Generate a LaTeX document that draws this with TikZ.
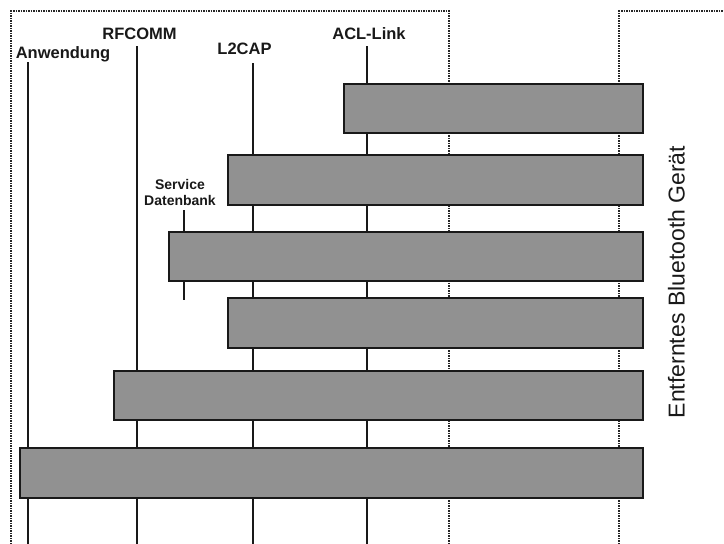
\documentclass[tikz,border=0pt]{standalone}
\usepackage{fontspec}
\setmainfont{Liberation Sans}
\definecolor{barfill}{RGB}{145,145,145}
\definecolor{ink}{RGB}{25,25,25}
\begin{document}
\begin{tikzpicture}[x=1pt,y=-1pt,
  lbl/.style={font=\bfseries\fontsize{16.5}{18}\selectfont, anchor=base, inner sep=0pt, text=ink},
  smalllbl/.style={font=\bfseries\fontsize{14}{16}\selectfont, align=center, inner sep=0pt, text=ink},
  life/.style={line width=1.7pt, draw=ink},
  bar/.style={draw=ink, line width=1.7pt, fill=barfill, anchor=north west, inner sep=0pt},
  border/.style={line width=1.8pt, draw=black!85, dash pattern=on 1.5pt off 1pt},
]
\useasboundingbox (0,0) rectangle (724,544);

% dotted frames of the local and the remote device
\draw[border] (11,544) -- (11,11) -- (449,11) -- (449,544);
\draw[border] (619,544) -- (619,11) -- (724,11);

% layer labels
\node[lbl] (anw) at (63,58) {Anwendung};
\node[lbl] (rfc) at (139.5,39) {RFCOMM};
\node[lbl] (l2c) at (244.5,54.5) {L2CAP};
\node[lbl] (acl) at (369,39) {ACL-Link};
\node[smalllbl] (sdb) at (180,192) {Service\\Datenbank};

% lifelines
\coordinate (anwT) at (28,62);   \coordinate (anwB) at (28,544);
\coordinate (rfcT) at (137,46);  \coordinate (rfcB) at (137,544);
\coordinate (l2cT) at (253,63);  \coordinate (l2cB) at (253,544);
\coordinate (aclT) at (367,46);  \coordinate (aclB) at (367,544);
\coordinate (sdbT) at (184,210); \coordinate (sdbB) at (184,300);
\draw[life] (anwT) -- (anwB);
\draw[life] (rfcT) -- (rfcB);
\draw[life] (l2cT) -- (l2cB);
\draw[life] (aclT) -- (aclB);
\draw[life] (sdbT) -- (sdbB);

% connection phases
\node[bar, minimum width=299pt, minimum height=49pt] (p1) at (343,83) {};
\node[bar, minimum width=415pt, minimum height=50pt] (p2) at (227,154) {};
\node[bar, minimum width=474pt, minimum height=49pt] (p3) at (168,231) {};
\node[bar, minimum width=415pt, minimum height=50pt] (p4) at (227,297) {};
\node[bar, minimum width=529pt, minimum height=49pt] (p5) at (113,370) {};
\node[bar, minimum width=623pt, minimum height=50pt] (p6) at (19,447) {};

% remote side
\node[rotate=90, inner sep=0pt, text=ink, font=\fontsize{23}{26}\selectfont] (rem) at (676.5,282) {Entferntes Bluetooth Gerät};
\end{tikzpicture}
\end{document}
